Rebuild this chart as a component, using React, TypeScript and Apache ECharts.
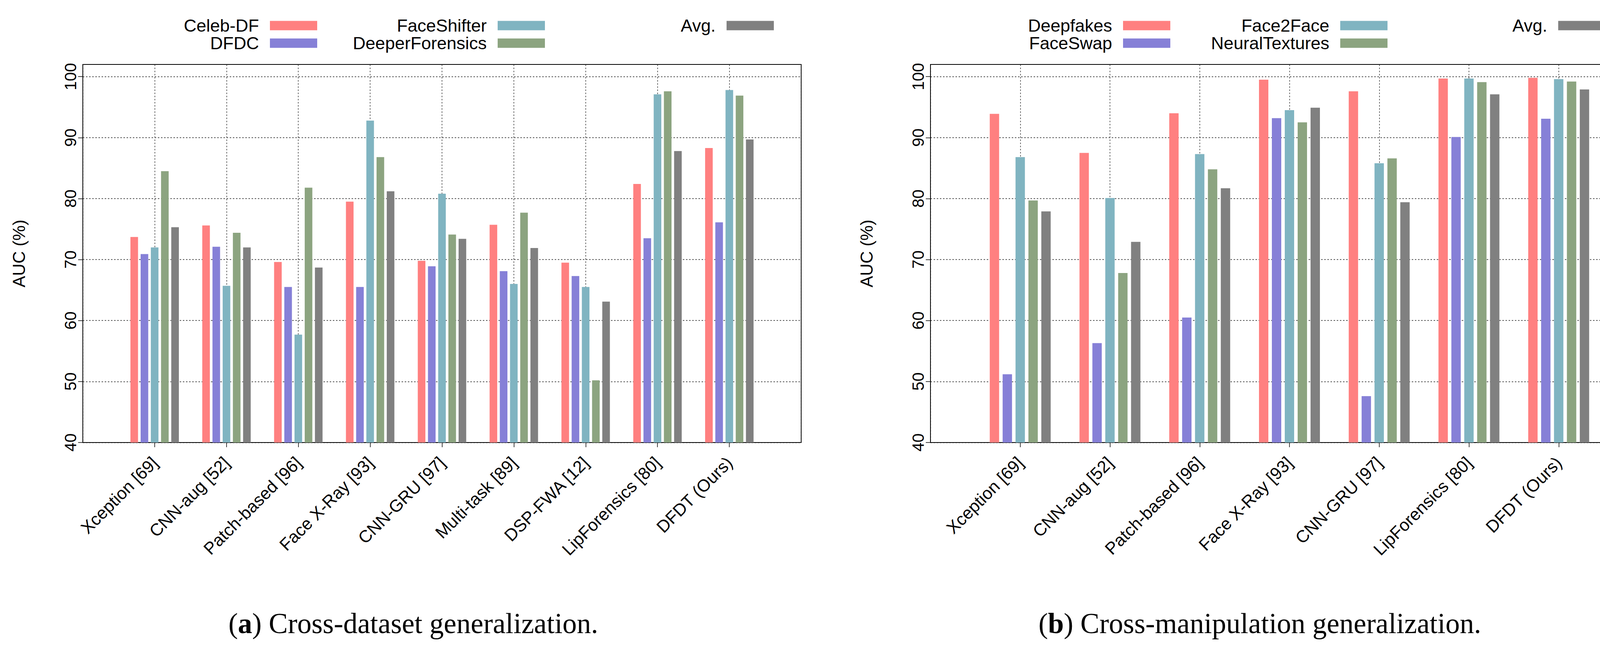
import React, { useEffect, useRef } from 'react';
import * as echarts from 'echarts';

const W = 4259;
const H = 1654;
const SANS = 'Liberation Sans';
const SERIF = 'Liberation Serif';

// (a) Cross-dataset generalization
const methodsA = ['Xception [69]', 'CNN-aug [52]', 'Patch-based [96]', 'Face X-Ray [93]', 'CNN-GRU [97]', 'Multi-task [89]', 'DSP-FWA [12]', 'LipForensics [80]', 'DFDT (Ours)'];
const celebDF = [73.7, 75.6, 69.6, 79.5, 69.8, 75.7, 69.5, 82.4, 88.3];
const dfdc = [70.9, 72.1, 65.5, 65.5, 68.9, 68.1, 67.3, 73.5, 76.1];
const faceShifter = [72.0, 65.7, 57.7, 92.8, 80.8, 66.0, 65.5, 97.1, 97.8];
const deeperForensics = [84.5, 74.4, 81.8, 86.8, 74.1, 77.7, 50.2, 97.6, 96.9];
const avgA = [75.3, 72.0, 68.7, 81.2, 73.4, 71.9, 63.1, 87.8, 89.7];

// (b) Cross-manipulation generalization
const methodsB = ['Xception [69]', 'CNN-aug [52]', 'Patch-based [96]', 'Face X-Ray [93]', 'CNN-GRU [97]', 'LipForensics [80]', 'DFDT (Ours)'];
const deepfakes = [93.9, 87.5, 94.0, 99.5, 97.6, 99.7, 99.8];
const faceSwap = [51.2, 56.3, 60.5, 93.2, 47.6, 90.1, 93.1];
const face2Face = [86.8, 80.1, 87.3, 94.5, 85.8, 99.7, 99.6];
const neuralTextures = [79.7, 67.8, 84.8, 92.5, 86.6, 99.1, 99.2];
const avgB = [77.9, 72.9, 81.7, 94.9, 79.4, 97.1, 97.9];

const yTicks = [40, 50, 60, 70, 80, 90, 100];
const colors = ['#ff8080', '#8680d7', '#80b4c1', '#8ca480', '#808080'];

const seriesA = [
  { name: 'Celeb-DF', data: celebDF },
  { name: 'DFDC', data: dfdc },
  { name: 'FaceShifter', data: faceShifter },
  { name: 'DeeperForensics', data: deeperForensics },
  { name: 'Avg.', data: avgA },
];
const seriesB = [
  { name: 'Deepfakes', data: deepfakes },
  { name: 'FaceSwap', data: faceSwap },
  { name: 'Face2Face', data: face2Face },
  { name: 'NeuralTextures', data: neuralTextures },
  { name: 'Avg.', data: avgB },
];

// legend layout: [name, right offset of swatch, row]
const legendLayout: [string, number, number][] = [
  ['Celeb-DF', 3447, 0], ['DFDC', 3447, 1], ['FaceShifter', 2864, 0], ['DeeperForensics', 2864, 1], ['Avg.', 2278, 0],
  ['Deepfakes', 1263, 0], ['FaceSwap', 1263, 1], ['Face2Face', 707, 0], ['NeuralTextures', 707, 1], ['Avg.', 149, 0],
];

const gridLine = { color: '#222', width: 1.3, type: [4, 4] as number[] };

function makeX(gridIndex: number, cats: string[]) {
  return {
    type: 'category',
    gridIndex,
    data: ['', ...cats, ''],
    boundaryGap: false,
    axisLine: { show: true, lineStyle: { color: '#000', width: 2 } },
    axisTick: {
      show: true,
      inside: false,
      length: 12,
      interval: (i: number) => i > 0 && i <= cats.length,
      lineStyle: { color: '#000', width: 1.5 },
    },
    axisLabel: {
      interval: 0,
      rotate: 45,
      align: 'right',
      verticalAlign: 'middle',
      margin: 44,
      fontSize: 44,
      color: '#000',
      fontFamily: SANS,
      hideOverlap: false,
    },
    splitLine: { show: true, lineStyle: gridLine },
  };
}

function makeY(gridIndex: number) {
  return {
    type: 'value',
    gridIndex,
    min: 40,
    max: 102,
    interval: 10,
    name: 'AUC (%)',
    nameLocation: 'middle',
    nameRotate: 90,
    nameGap: 142,
    nameMoveOverlap: false,
    nameTextStyle: { fontSize: 44, color: '#000', fontFamily: SANS },
    axisLine: { show: true, lineStyle: { color: '#000', width: 2 } },
    axisTick: { show: true, inside: false, length: 12, customValues: yTicks, lineStyle: { color: '#000', width: 1.5 } },
    axisLabel: {
      rotate: 90,
      margin: 11,
      fontSize: 42,
      color: '#000',
      fontFamily: SANS,
      formatter: (v: number) => (v % 10 === 0 ? String(v) : ''),
    },
    splitLine: { show: true, lineStyle: gridLine },
  };
}

function makeSeries(list: { name: string; data: number[] }[], idx: number, barWidth: number, barGap: string) {
  return list.map((s, i) => ({
    type: 'bar',
    name: s.name,
    xAxisIndex: idx,
    yAxisIndex: idx,
    data: ['-', ...s.data, '-'],
    barWidth,
    barGap,
    itemStyle: { color: colors[i] },
    emphasis: { disabled: true },
  }));
}

function caption(x: number, letter: string, rest: string) {
  return {
    type: 'text',
    x,
    y: 1596,
    style: {
      text: '({b|' + letter + '}) ' + rest,
      fontSize: 73,
      fontFamily: SERIF,
      fill: '#000',
      align: 'center',
      verticalAlign: 'middle',
      rich: { b: { fontSize: 73, fontFamily: SERIF, fontWeight: 'bold', fill: '#000' } },
    },
  };
}

export default function App() {
  const ref = useRef<HTMLDivElement>(null);
  useEffect(() => {
    document.body.style.margin = '0';
    if (!ref.current) return;
    const chart = echarts.init(ref.current, undefined, { renderer: 'svg', width: W, height: H });
    const legends = legendLayout.map(([name, right, row]) => ({
      data: [name],
      right,
      top: row === 0 ? 43 : 88,
      padding: 0,
      align: 'right',
      icon: 'rect',
      itemWidth: 121,
      itemHeight: 24,
      selectedMode: false,
      textStyle: { fontSize: 45, color: '#000', fontFamily: SANS, padding: [0, 23, 0, 0] },
    }));
    chart.setOption({
      animation: false,
      backgroundColor: '#fff',
      legend: legends,
      grid: [
        { left: 212, top: 165, width: 1839, height: 968, show: true, borderColor: '#000', borderWidth: 2, containLabel: false },
        { left: 2382, top: 165, width: 1838, height: 968, show: true, borderColor: '#000', borderWidth: 2, containLabel: false },
      ],
      xAxis: [makeX(0, methodsA), makeX(1, methodsB)],
      yAxis: [makeY(0), makeY(1)],
      series: [...makeSeries(seriesA, 0, 19.5, '34%'), ...makeSeries(seriesB, 1, 24, '37.5%')],
      graphic: [
        caption(1058, 'a', 'Cross-dataset generalization.'),
        caption(3225, 'b', 'Cross-manipulation generalization.'),
      ],
    });
    return () => chart.dispose();
  }, []);
  return <div ref={ref} style={{ width: W, height: H }} />;
}
